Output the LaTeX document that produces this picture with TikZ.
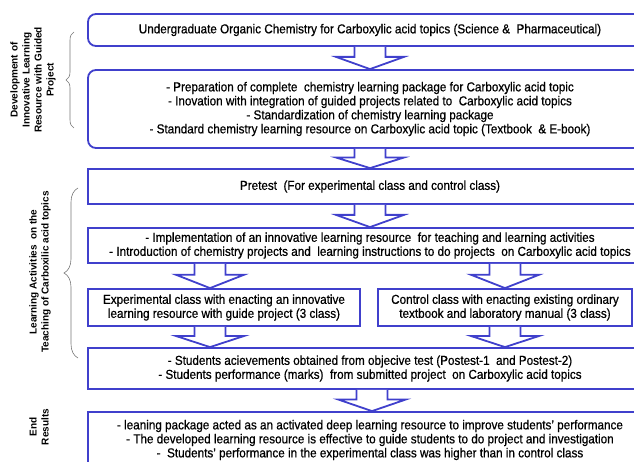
\documentclass[tikz,border=0pt]{standalone}
\usepackage{fontspec}
\setmainfont{Liberation Sans}[FakeStretch=0.9,FakeBold=0.6]
\newfontfamily\labfont{Liberation Sans}
\usetikzlibrary{calc,decorations.pathreplacing}
\definecolor{bblue}{RGB}{64,64,204}
\definecolor{bracegray}{RGB}{120,120,120}
\newcommand\blockarrow[3]{%
  \draw[barrow] let \p1=(#1.south), \p2=(#2.north) in
  ({(#3-15.5)*1pt},\y1) -- ({(#3-15.5)*1pt},{\y1+0.45*(\y2-\y1)})
  -- ({(#3-34)*1pt},{\y1+0.45*(\y2-\y1)}) -- ({#3*1pt},\y2)
  -- ({(#3+34)*1pt},{\y1+0.45*(\y2-\y1)}) -- ({(#3+15.5)*1pt},{\y1+0.45*(\y2-\y1)})
  -- ({(#3+15.5)*1pt},\y1);}
\begin{document}
\begin{tikzpicture}[x=1pt,y=-1pt,
  box/.style={draw=bblue, line width=1.8pt, fill=white, inner sep=0pt, align=center,
    font=\fontsize{13}{14}\selectfont},
  rbox/.style={box, rounded corners=8pt},
  barrow/.style={draw=bblue, line width=1.8pt, fill=white, line join=miter},
  lab/.style={rotate=90, align=center, font=\labfont\bfseries\fontsize{10}{12}\selectfont},
  bracestyle/.style={draw=bracegray, line width=0.6pt, decorate}]
\useasboundingbox (0,0) rectangle (634,462);
\clip (0,0) rectangle (634,462);

\node[rbox, minimum width=564pt, minimum height=32pt] (b1) at (370,30)
  {Undergraduate Organic Chemistry for Carboxylic acid topics (Science \&\ \ Pharmaceutical)};
\node[rbox, minimum width=564pt, minimum height=78pt] (b2) at (370,109)
  {- Preparation of complete\ \ chemistry learning package for Carboxylic acid topic\\
   - Inovation with integration of guided projects related to\ \ Carboxylic acid topics\\
   - Standardization of chemistry learning package\\
   - Standard chemistry learning resource on Carboxylic acid topic (Textbook\ \ \& E-book)};
\node[box, minimum width=564pt, minimum height=35pt] (b3) at (370,186.5)
  {Pretest\ \ (For experimental class and control class)};
\node[box, minimum width=564pt, minimum height=35pt] (b4) at (370,245.5)
  {- Implementation of an innovative learning resource\ \ for teaching and learning activities\\
   - Introduction of chemistry projects and\ \ learning instructions to do projects\ \ on Carboxylic acid topics};
\node[box, minimum width=272pt, minimum height=37pt] (b5l) at (224,307.5)
  {Experimental class with enacting an innovative\\learning resource with guide project (3 class)};
\node[box, minimum width=254pt, minimum height=37pt] (b5r) at (505,307.5)
  {Control class with enacting existing ordinary\\textbook and laboratory manual (3 class)};
\node[box, minimum width=564pt, minimum height=41pt] (b6) at (370,368.5)
  {- Students acievements obtained from objecive test (Postest-1\ \ and Postest-2)\\
   - Students performance (marks)\ \ from submitted project\ \ on Carboxylic acid topics};
\node[box, minimum width=564pt, minimum height=56pt] (b7) at (370,440)
  {- leaning package acted as an activated deep learning resource to improve students' performance\\
   - The developed learning resource is effective to guide students to do project and investigation\\
   -\ \ Students' performance in the experimental class was higher than in control class};

\blockarrow{b1}{b2}{370}
\blockarrow{b2}{b3}{370}
\blockarrow{b3}{b4}{370}
\blockarrow{b4}{b5l}{210}
\blockarrow{b4}{b5r}{505}
\blockarrow{b5l}{b6}{210}
\blockarrow{b5r}{b6}{505}
\blockarrow{b6}{b7}{372}

\draw[bracestyle, decoration={brace, amplitude=8pt}] (74,128) -- (74,32);
\draw[bracestyle, decoration={brace, amplitude=14pt}] (78,358) -- (78,188);

\node[lab] (l1) at (33,80) {Development of\\Innovative Learning\\Resource with Guided\\Project};
\node[lab] (l2) at (40,272) {Learning Activities\ \ on the\\Teaching of Carboxilic acid topics};
\node[lab] (l3) at (39,427) {End\\Results};
\end{tikzpicture}
\end{document}
